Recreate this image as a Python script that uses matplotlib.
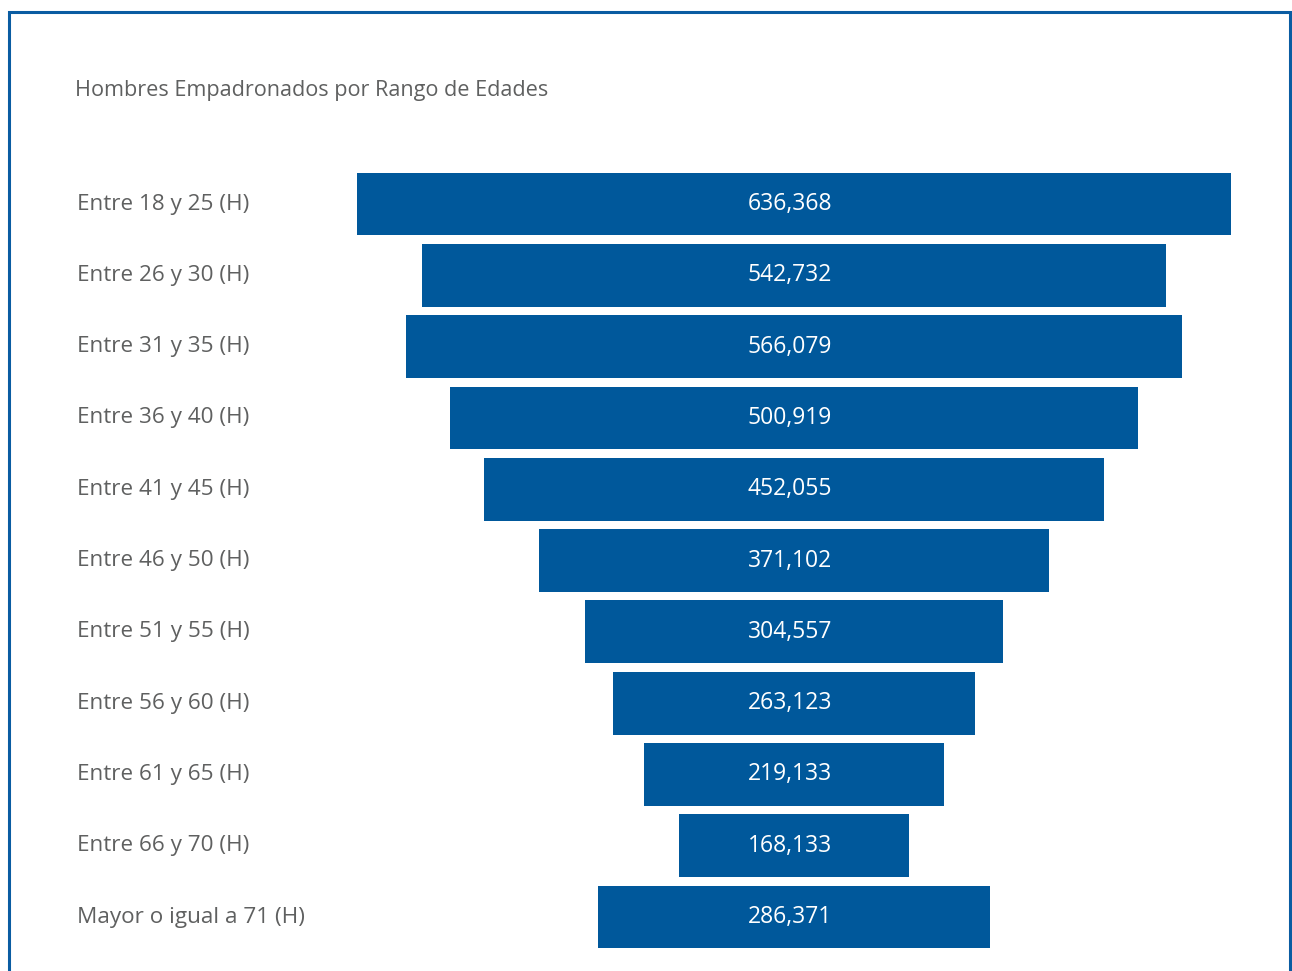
import matplotlib
matplotlib.use("Agg")
import matplotlib.pyplot as plt
import matplotlib.transforms as mtransforms
from matplotlib.patches import Rectangle

categories = ["Entre 18 y 25 (H)", "Entre 26 y 30 (H)", "Entre 31 y 35 (H)",
              "Entre 36 y 40 (H)", "Entre 41 y 45 (H)", "Entre 46 y 50 (H)",
              "Entre 51 y 55 (H)", "Entre 56 y 60 (H)", "Entre 61 y 65 (H)",
              "Entre 66 y 70 (H)", "Mayor o igual a 71 (H)"]
values = [636368, 542732, 566079, 500919, 452055, 371102,
          304557, 263123, 219133, 168133, 286371]

W, H = 1292, 971
plt.rcParams['font.family'] = ['Open Sans', 'DejaVu Sans']
fig = plt.figure(figsize=(W / 100, H / 100), dpi=100)
fig.patch.set_facecolor('white')

blue = '#00589b'
gray = '#5f6060'

# axes: pixel x 300..1288, y 150..965
ax = fig.add_axes([300 / W, 1 - 967 / H, 988 / W, 815 / H])
ax.set_xlim(-360000, 360000)
ax.set_ylim(10.70, -0.73)
ax.axis('off')

ypos = list(range(len(values)))
lefts = [-v / 2 for v in values]
ax.barh(ypos, values, left=lefts, height=0.88, color=blue)

for y, v in zip(ypos, values):
    ax.text(-3000, y, f"{v:,}", color='white', fontsize=16.5,
            ha='center', va='center')

trans = mtransforms.blended_transform_factory(fig.transFigure, ax.transData)
for y, c in zip(ypos, categories):
    ax.text(77 / W, y, c, transform=trans, color=gray, fontsize=16.2,
            ha='left', va='center')

fig.text(75 / W, 1 - 90 / H, "Hombres Empadronados por Rango de Edades",
         color=gray, fontsize=15.6, ha='left', va='center')

# outer frame (bottom edge cut off)
fig.patches.append(Rectangle((8.5 / W, -0.05), 1281 / W, 1.05 - 12.5 / H,
                             transform=fig.transFigure, fill=False,
                             edgecolor='#0a5ca2', linewidth=2.2))

fig.savefig("out.png", dpi=100)
